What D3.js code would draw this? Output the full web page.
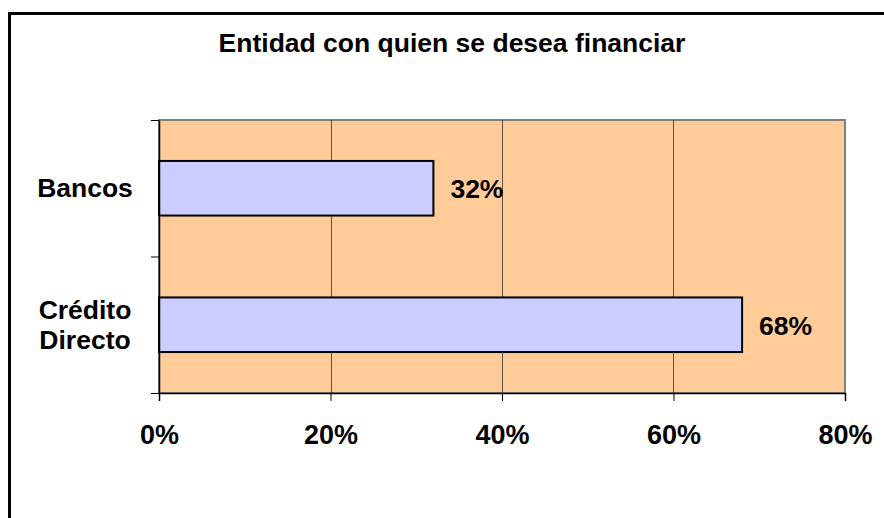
<!DOCTYPE html>
<html>
<head>
<meta charset="utf-8">
<script src="https://cdn.jsdelivr.net/npm/d3@7/dist/d3.min.js"></script>
<style>
  html, body { margin: 0; padding: 0; background: #fff; }
  svg { display: block; }
  text { font-family: "Liberation Sans", Arial, sans-serif; font-weight: bold; fill: #000; }
</style>
</head>
<body>
<svg id="chart" width="884" height="518"></svg>
<script>
const title = "Entidad con quien se desea financiar";
const categories = ["Bancos", "Crédito Directo"];
const values = [0.32, 0.68];
const tickValues = [0, 0.2, 0.4, 0.6, 0.8];

const svg = d3.select("#chart");
const W = 884, H = 518;
const plot = { left: 159, top: 120, right: 845, bottom: 393 };

// outer chart border
svg.append("rect")
  .attr("x", 9.5).attr("y", 13.5)
  .attr("width", W + 20).attr("height", H + 20)
  .attr("fill", "#fff").attr("stroke", "#000").attr("stroke-width", 3);

// title
svg.append("text")
  .attr("x", 452).attr("y", 52)
  .attr("text-anchor", "middle")
  .attr("font-size", 26.5)
  .text(title);

const x = d3.scaleLinear().domain([0, 0.8]).range([plot.left, plot.right]);
const y = d3.scaleBand().domain(categories).range([plot.top, plot.bottom])
  .paddingInner(0.6).paddingOuter(0.3);

// plot background
svg.append("rect")
  .attr("x", plot.left).attr("y", plot.top)
  .attr("width", plot.right - plot.left).attr("height", plot.bottom - plot.top)
  .attr("fill", "#FFCC99").attr("stroke", "#808080").attr("stroke-width", 2);

// gridlines
svg.append("g").selectAll("line")
  .data(tickValues.filter(d => d > 0 && d < 0.8))
  .join("line")
  .attr("x1", d => Math.round(x(d)) + 0.5).attr("x2", d => Math.round(x(d)) + 0.5)
  .attr("y1", plot.top).attr("y2", plot.bottom)
  .attr("stroke", "#000").attr("stroke-opacity", 0.6).attr("stroke-width", 1);

// bars
svg.append("g").selectAll("rect")
  .data(categories)
  .join("rect")
  .attr("x", x(0))
  .attr("y", d => y(d))
  .attr("width", (d, i) => x(values[i]) - x(0))
  .attr("height", y.bandwidth())
  .attr("fill", "#CCCCFF")
  .attr("stroke", "#000").attr("stroke-width", 2);

// value labels
svg.append("g").selectAll("text")
  .data(categories)
  .join("text")
  .attr("x", (d, i) => x(values[i]) + 17)
  .attr("y", d => y(d) + y.bandwidth() / 2 + 10)
  .attr("font-size", 26.5)
  .text((d, i) => Math.round(values[i] * 100) + "%");

// x axis
const xAxis = d3.axisBottom(x).tickValues(tickValues)
  .tickFormat(d3.format(".0%")).tickSize(8).tickPadding(24);
const gx = svg.append("g").attr("transform", `translate(0,${plot.bottom})`).call(xAxis);
gx.select(".domain").attr("stroke", "#000").attr("stroke-width", 1.5);
gx.selectAll(".tick line").attr("stroke", "#000");
gx.selectAll(".tick text")
  .attr("font-size", 27)
  .attr("font-family", "'Liberation Sans', Arial, sans-serif")
  .attr("font-weight", "bold")
  .attr("fill", "#000");

// y axis line and ticks (between categories)
const yEdges = d3.scaleLinear().domain([0, categories.length]).range([plot.top, plot.bottom]);
const yAxis = d3.axisLeft(yEdges).tickValues(d3.range(categories.length + 1))
  .tickFormat("").tickSize(8).tickSizeOuter(0);
const gy = svg.append("g").attr("transform", `translate(${plot.left},0)`).call(yAxis);
gy.select(".domain").attr("stroke", "#000").attr("stroke-width", 1.5);
gy.selectAll(".tick line").attr("stroke", "#000");

// category labels
const catG = svg.append("g");
categories.forEach(c => {
  const words = c.split(" ");
  const cy = y(c) + y.bandwidth() / 2;
  const lh = 30;
  const t = catG.append("text")
    .attr("text-anchor", "middle")
    .attr("font-size", 26.5);
  words.forEach((w, i) => {
    t.append("tspan")
      .attr("x", 85)
      .attr("y", cy + 9 + (i - (words.length - 1) / 2) * lh)
      .text(w);
  });
});
</script>
</body>
</html>
